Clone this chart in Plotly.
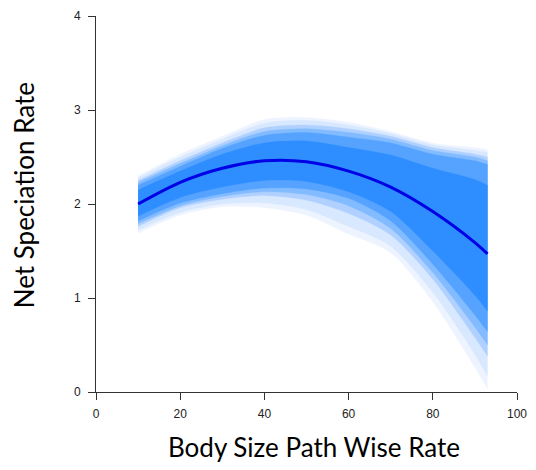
import plotly.graph_objects as go

# x positions where the fan was read
x_pts = [10, 20, 30, 40, 50, 60, 70, 80, 90, 93]

# posterior mean curve
mean_rate = [2.00, 2.23, 2.38, 2.46, 2.45, 2.35, 2.18, 1.92, 1.59, 1.47]

# envelope of the posterior lines (outermost faint lines)
outer_upper = [2.30, 2.53, 2.72, 2.90, 2.92, 2.87, 2.77, 2.65, 2.60, 2.58]
outer_lower = [1.69, 1.88, 1.97, 1.96, 1.88, 1.68, 1.48, 0.96, 0.26, 0.03]

# faint band
faint_upper = [2.28, 2.50, 2.69, 2.86, 2.89, 2.84, 2.75, 2.63, 2.57, 2.55]
faint_lower = [1.72, 1.91, 2.00, 2.01, 1.94, 1.76, 1.55, 1.06, 0.40, 0.17]

# broad (light) band
broad_upper = [2.25, 2.46, 2.65, 2.81, 2.84, 2.80, 2.72, 2.60, 2.53, 2.50]
broad_lower = [1.76, 1.96, 2.05, 2.09, 2.04, 1.90, 1.67, 1.20, 0.58, 0.38]

# intermediate band
mid_upper = [2.23, 2.43, 2.62, 2.77, 2.80, 2.76, 2.69, 2.57, 2.50, 2.46]
mid_lower = [1.79, 1.98, 2.08, 2.13, 2.10, 1.98, 1.74, 1.27, 0.69, 0.50]

# dense band
dense_upper = [2.20, 2.40, 2.59, 2.73, 2.76, 2.71, 2.65, 2.53, 2.46, 2.42]
dense_lower = [1.82, 2.01, 2.11, 2.17, 2.16, 2.06, 1.82, 1.36, 0.82, 0.64]

# core band
core_upper = [2.15, 2.35, 2.53, 2.65, 2.67, 2.60, 2.52, 2.38, 2.26, 2.20]
core_lower = [1.87, 2.07, 2.18, 2.25, 2.24, 2.13, 1.92, 1.50, 1.03, 0.86]

x_ticks = [0, 20, 40, 60, 80, 100]
y_ticks = [0, 1, 2, 3, 4]

bands = [
    (outer_upper, outer_lower, "#eef4ff"),
    (faint_upper, faint_lower, "#d8e8ff"),
    (broad_upper, broad_lower, "#b0d1ff"),
    (mid_upper, mid_lower, "#82bbff"),
    (dense_upper, dense_lower, "#55a3ff"),
    (core_upper, core_lower, "#2e8eff"),
]

fig = go.Figure()
for up, lo, col in bands:
    fig.add_trace(go.Scatter(
        x=x_pts, y=lo, mode="lines",
        line=dict(color=col, width=0.3, shape="spline", smoothing=0.8),
        hoverinfo="skip", showlegend=False,
    ))
    fig.add_trace(go.Scatter(
        x=x_pts, y=up, mode="lines", fill="tonexty", fillcolor=col,
        line=dict(color=col, width=0.3, shape="spline", smoothing=0.8),
        hoverinfo="skip", showlegend=False,
    ))

fig.add_trace(go.Scatter(
    x=x_pts, y=mean_rate, mode="lines",
    line=dict(color="#0000e6", width=3, shape="spline", smoothing=0.8),
    showlegend=False,
))

axis_common = dict(
    showgrid=False, zeroline=False, showline=True, linecolor="#333",
    linewidth=1, ticks="outside", ticklen=7, tickcolor="#333",
    tickfont=dict(family="Liberation Sans, Arial", size=12, color="#222"),
)
fig.update_xaxes(range=[0, 100], tickvals=x_ticks, ticklabelstandoff=4,
                 **axis_common)
fig.update_yaxes(range=[0, 4], tickvals=y_ticks, ticklabelstandoff=5,
                 **axis_common)

title_font = dict(family="Lato, Open Sans", size=26, color="#000")
fig.add_annotation(text="Body Size Path Wise Rate", xref="paper", yref="paper",
                   x=0.517, y=-0.146, xanchor="center", yanchor="middle",
                   showarrow=False, font=title_font)
fig.add_annotation(text="Net Speciation Rate", xref="paper", yref="paper",
                   x=-0.172, y=0.522, xanchor="center", yanchor="middle",
                   textangle=-90, showarrow=False, font=title_font)

fig.update_layout(
    width=536, height=470,
    margin=dict(l=96, r=13, t=9, b=78),
    paper_bgcolor="white", plot_bgcolor="white",
)
fig.write_html("out.html")
